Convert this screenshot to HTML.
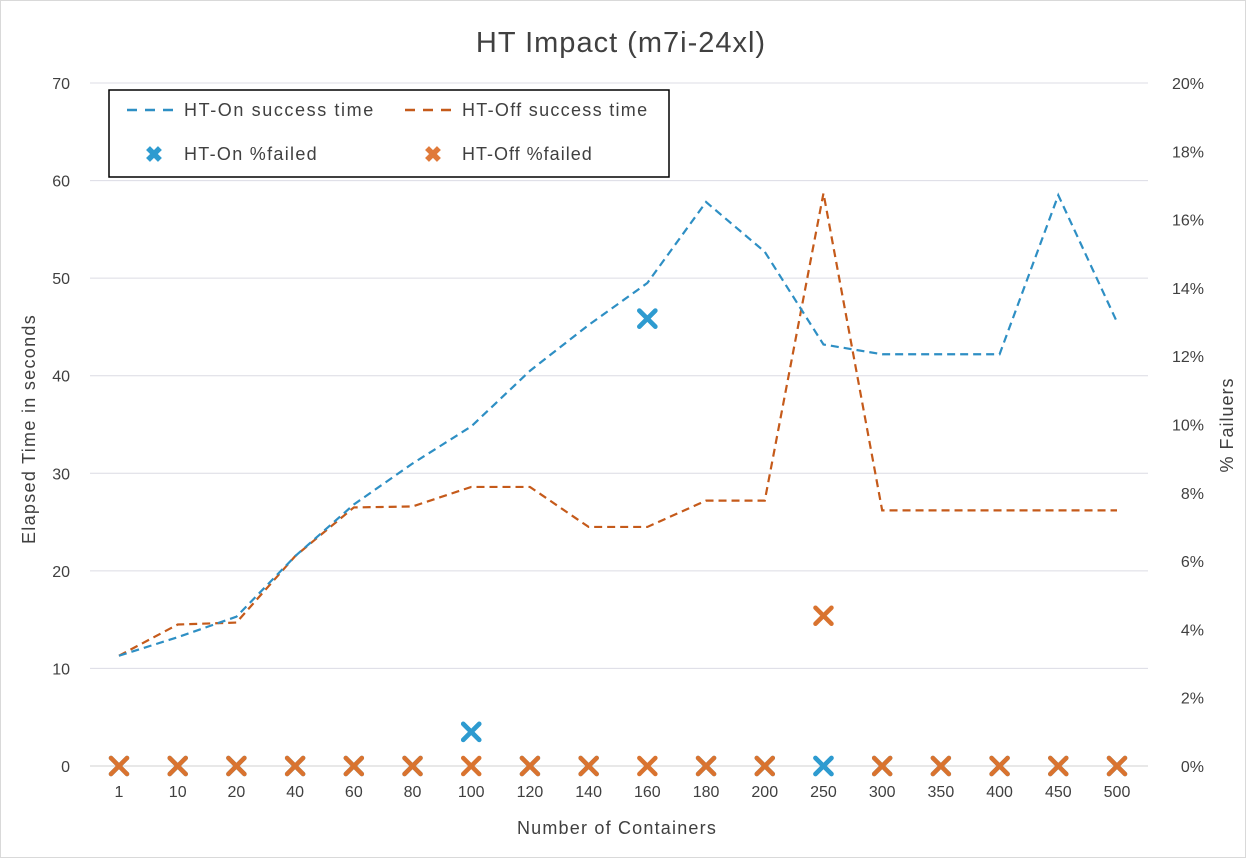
<!DOCTYPE html>
<html><head><meta charset="utf-8"><style>
html,body{margin:0;padding:0;background:#fff;}
svg{display:block;font-family:"Liberation Sans",sans-serif;}
</style></head><body>
<svg id="chart" width="1246" height="858" viewBox="0 0 1246 858">
<rect x="0.5" y="0.5" width="1245" height="857" fill="#fff" stroke="#d9d9d9"/>
<text x="621" y="52" text-anchor="middle" font-size="29" letter-spacing="1" fill="#404040">HT Impact (m7i-24xl)</text>
<g id="grid"></g>
<g id="ylabels"></g>
<g id="y2labels"></g>
<g id="xlabels"></g>
<g id="series"></g>
<text x="617" y="834" text-anchor="middle" font-size="18" letter-spacing="1.2" fill="#404040">Number of Containers</text>
<text transform="translate(35,429) rotate(-90)" text-anchor="middle" font-size="18" letter-spacing="1.3" fill="#404040">Elapsed Time in seconds</text>
<text transform="translate(1233,425) rotate(-90)" text-anchor="middle" font-size="18" letter-spacing="1" fill="#404040">% Failuers</text>
<g>
<rect x="109" y="90" width="560" height="87" fill="#fff" stroke="#000" stroke-width="1.5"/>
<line x1="127" y1="110" x2="174" y2="110" stroke="#2e8fc4" stroke-width="2.5" stroke-dasharray="10,8"/>
<text x="184" y="116" font-size="18" letter-spacing="1.6" fill="#404040">HT-On success time</text>
<line x1="405" y1="110" x2="452" y2="110" stroke="#c55a1a" stroke-width="2.5" stroke-dasharray="10,8"/>
<text x="462" y="116" font-size="18" letter-spacing="1.3" fill="#404040">HT-Off success time</text>
<text x="154" y="162" text-anchor="middle" font-size="22" font-weight="bold" fill="#2e9bd0">✖</text>
<text x="184" y="160" font-size="18" letter-spacing="1.3" fill="#404040">HT-On %failed</text>
<text x="433" y="162" text-anchor="middle" font-size="22" font-weight="bold" fill="#e07a3a">✖</text>
<text x="462" y="160" font-size="18" letter-spacing="1" fill="#404040">HT-Off %failed</text>
</g>
</svg>
<script>
const categories=["1","10","20","40","60","80","100","120","140","160","180","200","250","300","350","400","450","500"];
const htOnTime=[11.3,13.2,15.3,21.5,26.8,31,34.8,40.5,45.2,49.5,57.8,52.7,43.2,42.2,42.2,42.2,58.5,45.5];
const htOffTime=[11.3,14.5,14.7,21.5,26.5,26.6,28.6,28.6,24.5,24.5,27.2,27.2,58.7,26.2,26.2,26.2,26.2,26.2];
const htOnFailed=[0,0,0,0,0,0,1,0,0,13.1,0,0,0,0,0,0,0,0];
const htOffFailed=[0,0,0,0,0,0,0,0,0,0,0,0,4.4,0,0,0,0,0];
const yTicks=[0,10,20,30,40,50,60,70];
const y2Ticks=[0,2,4,6,8,10,12,14,16,18,20];
const NS="http://www.w3.org/2000/svg";
const X0=119,X1=1117,YB=766,YT=83;
const x=i=>X0+(X1-X0)*i/(categories.length-1);
const y=v=>YB-(YB-YT)*v/70;
const y2=v=>YB-(YB-YT)*v/20;
function mk(tag,attrs,parent){const e=document.createElementNS(NS,tag);for(const k in attrs)e.setAttribute(k,attrs[k]);parent.appendChild(e);return e;}
const grid=document.getElementById('grid'),yl=document.getElementById('ylabels'),y2l=document.getElementById('y2labels'),xl=document.getElementById('xlabels'),ser=document.getElementById('series');
yTicks.forEach(t=>{
 const l=mk('line',{x1:90,x2:1148,y1:y(t),y2:y(t),stroke:t===0?'#d0d0d0':'#dcdce4','stroke-width':1},grid);
 
 
 const tx=mk('text',{x:70,y:y(t)+6,'text-anchor':'end','font-size':16,fill:'#404040'},yl);
 tx.textContent=t;
 
 
});
y2Ticks.forEach(t=>{
 const tx=mk('text',{x:1204,y:y2(t)+6,'text-anchor':'end','font-size':16,fill:'#404040'},y2l);
 tx.textContent=t+'%';
 
 
});
categories.forEach((c,i)=>{
 const tx=mk('text',{x:x(i),y:797,'text-anchor':'middle','font-size':16,fill:'#404040'},xl);
 tx.textContent=c;
 
 
});
function line(vals,color,name){
 const p=mk('polyline',{points:vals.map((v,i)=>x(i)+','+y(v)).join(' '),fill:'none',stroke:color,'stroke-width':2.2,'stroke-dasharray':'8,5'},ser);
 
 
}
line(htOffTime,'#c55a1a','ht-off-time-line');
line(htOnTime,'#2e8fc4','ht-on-time-line');
function drawX(cx,cy,color,name){
 const s=8;
 const g=mk('path',{d:`M${cx-s},${cy-s}L${cx+s},${cy+s}M${cx-s},${cy+s}L${cx+s},${cy-s}`,stroke:color,'stroke-width':4.5,'stroke-linecap':'round'},ser);
 
 
}
htOnFailed.forEach((v,i)=>drawX(x(i),y2(v),'#2e9bd0','ht-on-failed-'+categories[i]));
htOffFailed.forEach((v,i)=>drawX(x(i),y2(v),'#d9732f','ht-off-failed-'+categories[i]));
htOnFailed.forEach((v,i)=>{ if(v!==htOffFailed[i]) drawX(x(i),y2(v),'#2e9bd0','ht-on-failed-top-'+categories[i]); });
</script>
</body></html>
